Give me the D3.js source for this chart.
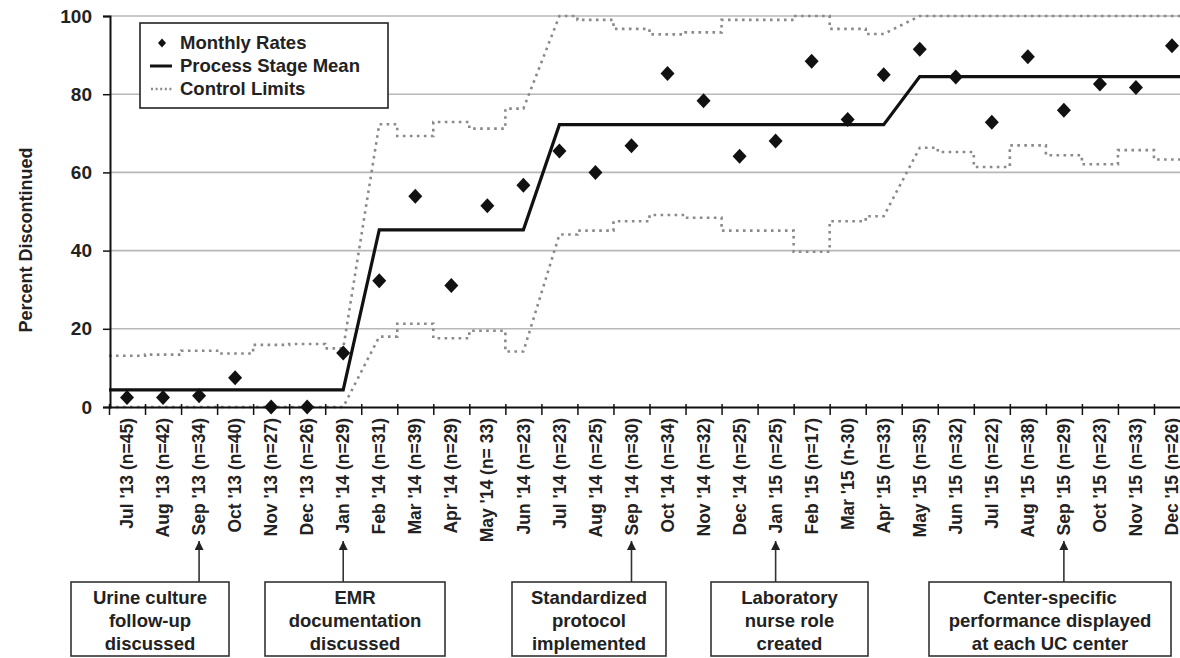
<!DOCTYPE html>
<html><head><meta charset="utf-8">
<script src="https://cdn.jsdelivr.net/npm/d3@7"></script>
<style>
body{margin:0;background:#fff}
svg text{font-family:"Liberation Sans",Arial,sans-serif;font-weight:bold;fill:#222}
</style>
</head><body><svg id="chart" width="1180" height="658"></svg>
<script>
// ---------- data ----------
const months = ["Jul '13 (n=45)","Aug '13 (n=42)","Sep '13 (n=34)","Oct '13 (n=40)","Nov '13 (n=27)","Dec '13 (n=26)",
  "Jan '14 (n=29)","Feb '14 (n=31)","Mar '14 (n=39)","Apr '14 (n=29)","May '14 (n= 33)","Jun '14 (n=23)",
  "Jul '14 (n=23)","Aug '14 (n=25)","Sep '14 (n=30)","Oct '14 (n=34)","Nov '14 (n=32)","Dec '14 (n=25)",
  "Jan '15 (n=25)","Feb '15 (n=17)","Mar '15 (n-30)","Apr '15 (n=33)","May '15 (n=35)","Jun '15 (n=32)",
  "Jul '15 (n=22)","Aug '15 (n=38)","Sep '15 (n=29)","Oct '15 (n=23)","Nov '15 (n=33)","Dec '15 (n=26)"];
const monthlyRates = [2.4,2.4,2.9,7.5,0,0,13.8,32.3,53.9,31.1,51.5,56.7,65.5,60.0,66.8,85.3,78.3,64.1,68.0,88.4,73.5,85.0,91.5,84.4,72.8,89.6,75.9,82.6,81.7,92.4];
const stageIndex = [0,0,0,0,0,0,0,1,1,1,1,1,2,2,2,2,2,2,2,2,2,2,3,3,3,3,3,3,3,3];
const processStageMean = [4.4,4.4,4.4,4.4,4.4,4.4,4.4,45.3,45.3,45.3,45.3,45.3,72.2,72.2,72.2,72.2,72.2,72.2,72.2,72.2,72.2,72.2,84.5,84.5,84.5,84.5,84.5,84.5,84.5,84.5];
const upperControlLimit = [13.1,13.4,14.4,13.7,15.9,16.1,15.0,72.3,69.3,72.9,71.2,76.3,100,99.0,96.7,95.3,95.8,99.0,99.0,100,96.7,95.4,100,100,100,100,100,100,100,100];
const lowerControlLimit = [0,0,0,0,0,0,0,18.0,21.3,17.6,19.5,14.2,44.1,45.1,47.5,49.1,48.4,45.1,45.1,39.7,47.5,48.8,66.3,65.2,61.4,66.9,64.4,62.1,65.7,63.3];
const yTicks = [0,20,40,60,80,100];
const yTitle = "Percent Discontinued";
const legendLabels = ["Monthly Rates","Process Stage Mean","Control Limits"];
const interventionMonths = [2,6,14,18,26];
const interventionTexts = [
  ["Urine culture","follow-up","discussed"],
  ["EMR","documentation","discussed"],
  ["Standardized","protocol","implemented"],
  ["Laboratory","nurse role","created"],
  ["Center-specific","performance displayed","at each UC center"]];

// ---------- layout ----------
const W = 1180, H = 658;
const svg = d3.select("#chart");
const x = d3.scaleLinear().domain([-0.5, months.length - 0.5]).range([109, 1190]);
const y = d3.scaleLinear().domain([0, 100]).range([407, 16]);
const boxExtents = [[71,229],[265,445],[512,666],[711,868],[929,1171]];
const boxTop = 582, boxBottom = 656;

// gridlines
svg.append("g").selectAll("line").data(yTicks.filter(d => d > 0)).join("line")
  .attr("x1", 110).attr("x2", W).attr("y1", d => y(d)).attr("y2", d => y(d))
  .attr("stroke", "#b8b8b8").attr("stroke-width", 1.6);

// step path builder (flat within each month, diagonal between stages)
function stepPoints(vals) {
  const pts = [];
  const n = vals.length;
  for (let i = 0; i < n; i++) {
    const first = i > 0 && stageIndex[i] !== stageIndex[i-1];
    const last = i < n - 1 && stageIndex[i] !== stageIndex[i+1];
    const l = i === 0 ? -0.5 : (first ? i : i - 0.5);
    const r = i === n - 1 ? i + 0.5 : (last ? i : i + 0.5);
    pts.push([l, vals[i]], [r, vals[i]]);
  }
  return pts;
}
const line = d3.line().x(d => x(d[0])).y(d => y(d[1]));

// control limits
[upperControlLimit, lowerControlLimit].forEach(vals => {
  svg.append("path").attr("d", line(stepPoints(vals)))
    .attr("fill", "none").attr("stroke", "#8a8a8a").attr("stroke-width", 2.6)
    .attr("stroke-dasharray", "2.6,4.4");
});

// axes
const yAxis = d3.axisLeft(y).tickValues(yTicks).tickSize(7).tickPadding(11);
const gy = svg.append("g").attr("transform", "translate(110,0)").call(yAxis);
gy.select(".domain").attr("stroke", "#111").attr("stroke-width", 2);
gy.selectAll(".tick line").attr("stroke", "#111").attr("stroke-width", 1.5);
gy.selectAll(".tick text").style("font-size", "19px").attr("fill", "#222");

const xAxis = d3.axisBottom(x).tickValues(d3.range(-0.5, months.length, 1)).tickFormat("").tickSizeInner(8).tickSizeOuter(0);
const gx = svg.append("g").attr("transform", "translate(0,407)").call(xAxis);
gx.select(".domain").attr("stroke", "#111").attr("stroke-width", 2);
gx.selectAll(".tick line").attr("stroke", "#111").attr("stroke-width", 1.5).attr("y1", -3);

// x labels
svg.append("g").selectAll("text").data(months).join("text")
  .attr("transform", (d, i) => `translate(${x(i)},418) rotate(-90)`)
  .attr("text-anchor", "end").attr("dy", "0.35em")
  .style("font-size", "17.5px").text(d => d);

// y title
svg.append("text").attr("transform", "translate(32,240) rotate(-90)")
  .attr("text-anchor", "middle").style("font-size", "18px").text(yTitle);

// process stage mean
svg.append("path").attr("d", line(stepPoints(processStageMean)))
  .attr("fill", "none").attr("stroke", "#111").attr("stroke-width", 3.2);

// monthly rates
const diamond = (cx, cy, hw, hh) => `M${cx},${cy-hh}L${cx+hw},${cy}L${cx},${cy+hh}L${cx-hw},${cy}Z`;
svg.append("g").selectAll("path").data(monthlyRates).join("path")
  .attr("d", (d, i) => diamond(x(i), y(d), 7, 7.5)).attr("fill", "#111");

// legend
const lg = svg.append("g");
lg.append("rect").attr("x", 140).attr("y", 23).attr("width", 248).attr("height", 85)
  .attr("fill", "#fff").attr("stroke", "#222").attr("stroke-width", 1.6);
const rowY = [43, 66, 89];
lg.append("path").attr("d", diamond(162, rowY[0], 4, 4.5)).attr("fill", "#111");
lg.append("line").attr("x1", 150).attr("x2", 172).attr("y1", rowY[1]).attr("y2", rowY[1])
  .attr("stroke", "#111").attr("stroke-width", 3);
lg.append("line").attr("x1", 151).attr("x2", 173).attr("y1", rowY[2]).attr("y2", rowY[2])
  .attr("stroke", "#8a8a8a").attr("stroke-width", 2.4).attr("stroke-dasharray", "2,2.6");
lg.selectAll("text").data(legendLabels).join("text")
  .attr("x", 180).attr("y", (d, i) => rowY[i]).attr("dy", "0.35em")
  .style("font-size", "18.5px").text(d => d);

// intervention arrows and boxes
svg.append("defs").append("marker").attr("id", "ah").attr("viewBox", "0 0 10 10")
  .attr("refX", 10).attr("refY", 5).attr("markerWidth", 9).attr("markerHeight", 9)
  .attr("markerUnits", "userSpaceOnUse").attr("orient", "auto")
  .append("path").attr("d", "M0,0L10,5L0,10Z").attr("fill", "#222");
const ig = svg.append("g");
interventionMonths.forEach((m, k) => {
  ig.append("line").attr("x1", x(m)).attr("x2", x(m)).attr("y1", boxTop).attr("y2", 541)
    .attr("stroke", "#333").attr("stroke-width", 1.6).attr("marker-end", "url(#ah)");
  const [bx0, bx1] = boxExtents[k];
  ig.append("rect").attr("x", bx0).attr("y", boxTop).attr("width", bx1 - bx0).attr("height", boxBottom - boxTop)
    .attr("fill", "#fff").attr("stroke", "#333").attr("stroke-width", 1.6);
  ig.append("text").attr("x", (bx0 + bx1) / 2).attr("text-anchor", "middle")
    .style("font-size", "18.5px")
    .selectAll("tspan").data(interventionTexts[k]).join("tspan")
    .attr("x", (bx0 + bx1) / 2).attr("y", (d, i) => 598 + i * 23).attr("dy", "0.35em").text(d => d);
});
</script>
</body></html>
